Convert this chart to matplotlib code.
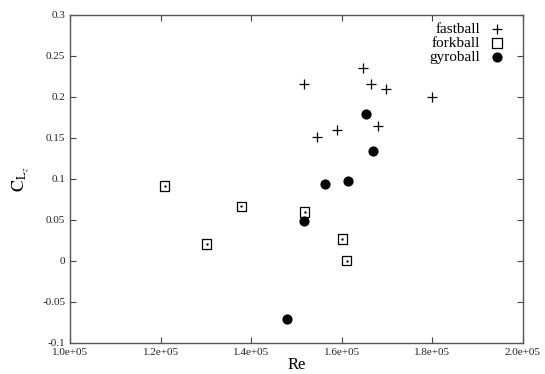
import matplotlib
matplotlib.use("Agg")
import matplotlib.pyplot as plt

plt.rcParams['font.family'] = ['Liberation Serif', 'DejaVu Serif']
plt.rcParams['mathtext.fontset'] = 'stix'

# ===== Data =====
fast_re = [1.516e5, 1.647e5, 1.665e5, 1.698e5, 1.800e5, 1.681e5, 1.590e5, 1.546e5]
fast_cl = [0.2155, 0.235, 0.2155, 0.2094, 0.200, 0.164, 0.160, 0.151]

fork_re = [1.209e5, 1.302e5, 1.378e5, 1.518e5, 1.601e5, 1.611e5]
fork_cl = [0.0915, 0.0207, 0.0667, 0.0598, 0.0268, 0.0004]

gyro_re = [1.479e5, 1.516e5, 1.563e5, 1.613e5, 1.653e5, 1.670e5]
gyro_cl = [-0.0703, 0.0488, 0.094, 0.098, 0.179, 0.134]

xticks = [1.0e5, 1.2e5, 1.4e5, 1.6e5, 1.8e5, 2.0e5]
xtick_labels = ["1.0e+05", "1.2e+05", "1.4e+05", "1.6e+05", "1.8e+05", "2.0e+05"]
yticks = [-0.1, -0.05, 0, 0.05, 0.1, 0.15, 0.2, 0.25, 0.3]
ytick_labels = ["-0.1", "-0.05", "0", "0.05", "0.1", "0.15", "0.2", "0.25", "0.3"]

# ===== Plot =====
fig = plt.figure(figsize=(5.45, 3.74), dpi=100)
ax = fig.add_axes([0.1284, 0.0829, 0.8312, 0.8771])

ax.scatter(fast_re, fast_cl, marker='+', s=45, c='black', linewidths=0.9, label='fastball')
# forkball: gnuplot style box with a dot in the middle
ax.scatter(fork_re, fork_cl, marker='s', s=45, facecolors='none', edgecolors='black',
           linewidths=0.9, label='forkball')
ax.scatter(fork_re, fork_cl, marker='.', s=2, c='black')
ax.scatter(gyro_re, gyro_cl, marker='o', s=40, c='black', label='gyroball')

ax.set_xlim(1.0e5, 2.0e5)
ax.set_ylim(-0.1, 0.3)
ax.set_xticks(xticks)
ax.set_xticklabels(xtick_labels)
ax.set_yticks(yticks)
ax.set_yticklabels(ytick_labels)
ax.tick_params(direction='in', length=4, width=0.8, labelsize=8, top=True, right=True,
               colors='#444444', labelcolor='#222222')
for sp in ax.spines.values():
    sp.set_color('#555555')
    sp.set_linewidth(1.0)

ax.set_xlabel("Re", fontsize=12, labelpad=0)
ax.set_ylabel(r"$\mathrm{C}_{\mathrm{L}_z}$", fontsize=13, labelpad=8)

ax.legend(loc='upper right', markerfirst=False, frameon=False, fontsize=11,
          handletextpad=0.4, handlelength=1.4, labelspacing=0.0, borderaxespad=0.0,
          bbox_to_anchor=(0.98, 0.995))

fig.savefig("out.png", dpi=100)
